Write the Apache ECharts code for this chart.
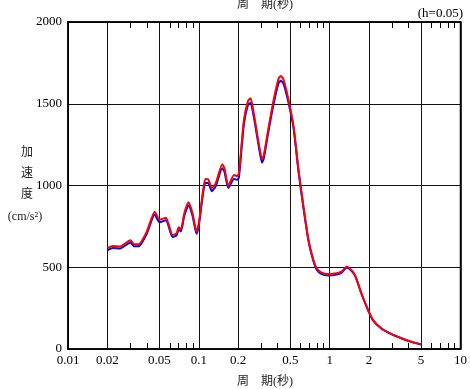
<!DOCTYPE html>
<html><head><meta charset="utf-8">
<script src="https://cdn.jsdelivr.net/npm/echarts@6/dist/echarts.min.js"></script>
<style>html,body{margin:0;padding:0;background:#fff}#c{width:470px;height:389px}</style>
</head><body><div id="c"></div>
<script>
const periods = [0.02,0.022,0.025,0.03,0.032,0.035,0.04,0.046,0.05,0.056,0.063,0.0676,0.07,0.073,0.0774,0.0834,0.0895,0.096,0.1,0.1054,0.112,0.118,0.1256,0.1346,0.151,0.157,0.168,0.1855,0.1965,0.2025,0.221,0.238,0.2485,0.263,0.287,0.304,0.314,0.342,0.373,0.407,0.424,0.445,0.485,0.53,0.578,0.631,0.689,0.751,0.796,0.869,0.977,1.13,1.233,1.345,1.428,1.559,1.749,1.966,2.146,2.48,2.96,3.52,4.19,5.0];
const accRed = [618,630,627,665,640,642,718,840,790,803,697,708,744,732,830,897,830,717,770,911,1040,1038,985,1013,1130,1105,997,1064,1058,1075,1400,1519,1533,1441,1258,1160,1187,1360,1523,1655,1670,1645,1523,1360,1095,870,667,544,493,467,459,463,473,503,493,453,341,239,177,127,92,67,45,29];
const accBlue = [605,618,615,652,628,630,705,822,775,788,685,695,730,720,815,878,815,705,755,895,1015,1015,965,995,1105,1085,985,1040,1035,1050,1375,1495,1505,1420,1240,1140,1168,1340,1500,1628,1640,1620,1505,1350,1085,860,660,538,485,458,450,455,467,497,488,450,338,237,175,126,91,66,44,28];
const xMajorTicks = [0.01,0.02,0.05,0.1,0.2,0.5,1,2,5,10];
const xMinorTicks = [0.03,0.04,0.06,0.07,0.08,0.09,0.3,0.4,0.6,0.7,0.8,0.9,3,4,6,7,8,9];
const yMin = 0, yMax = 2000, yStep = 500;
const xTitle = '周\u3000期(秒)';
const yTitle = '加\n速\n度';
const yUnit = '(cm/s\u00B2)';
const note = '(h=0.05)';

const FONT = '"Liberation Serif", "Noto Sans CJK JP", serif';
const chart = echarts.init(document.getElementById('c'), null, {renderer:'canvas'});
const mk = (vals) => periods.map((p,i)=>[p, vals[i]]);
const baseX = {type:'log', logBase:10, min:0.01, max:10, gridIndex:0};
chart.setOption({
  animation:false,
  backgroundColor:'#fff',
  grid:{left:68, right:7, top:22, bottom:40, show:true, borderColor:'#000', borderWidth:1.5, backgroundColor:'transparent'},
  xAxis:[
    Object.assign({}, baseX, {position:'bottom',
      axisLine:{show:true, onZero:false, lineStyle:{color:'#000', width:1.5}},
      axisTick:{show:false, customValues:xMajorTicks},
      axisLabel:{customValues:xMajorTicks, color:'#000', fontFamily:FONT, fontSize:13, margin:5,
        formatter:(v)=>String(Number(Number(v).toPrecision(3)))},
      splitLine:{show:true, lineStyle:{color:'#111', width:1}},
      minorTick:{show:false}, minorSplitLine:{show:false}}),
    Object.assign({}, baseX, {position:'bottom',
      axisLine:{show:false, onZero:false},
      axisTick:{show:true, inside:true, length:6, customValues:xMinorTicks, lineStyle:{color:'#000', width:1}},
      axisLabel:{show:false}, splitLine:{show:false}}),
    Object.assign({}, baseX, {position:'top',
      axisLine:{show:true, onZero:false, lineStyle:{color:'#000', width:1.5}},
      axisTick:{show:true, inside:true, length:6, customValues:xMinorTicks, lineStyle:{color:'#000', width:1}},
      axisLabel:{show:false}, splitLine:{show:false}})
  ],
  yAxis:[
    {type:'value', min:yMin, max:yMax, interval:yStep, position:'left',
      axisLine:{show:true, onZero:false, lineStyle:{color:'#000', width:1.5}},
      axisTick:{show:false},
      axisLabel:{color:'#000', fontFamily:FONT, fontSize:13, margin:6, formatter:(v)=>String(v)},
      splitLine:{show:true, lineStyle:{color:'#111', width:1}}},
    {type:'value', min:yMin, max:yMax, interval:yStep, position:'right',
      axisLine:{show:true, onZero:false, lineStyle:{color:'#000', width:1.5}},
      axisTick:{show:false}, axisLabel:{show:false}, splitLine:{show:false}}
  ],
  series:[
    {type:'line', name:'blue', data:mk(accBlue), showSymbol:false, symbol:'none', smooth:0.2,
      lineStyle:{color:'#0000ff', width:2}, z:3},
    {type:'line', name:'red', data:mk(accRed), showSymbol:false, symbol:'none', smooth:0.2,
      lineStyle:{color:'#ff0000', width:2}, z:4}
  ],
  graphic:[
    {type:'text', x:265, y:5, style:{text:xTitle, font:'12px '+FONT, fill:'#222', textAlign:'center', textVerticalAlign:'middle'}},
    {type:'text', x:265, y:382, style:{text:xTitle, font:'12px '+FONT, fill:'#222', textAlign:'center', textVerticalAlign:'middle'}},
    {type:'text', x:463, y:14, style:{text:note, font:'13px '+FONT, fill:'#000', textAlign:'right', textVerticalAlign:'middle'}},
    {type:'text', x:27, y:142, style:{text:yTitle, font:'12px '+FONT, fill:'#222', textAlign:'center', textVerticalAlign:'top', lineHeight:21}},
    {type:'text', x:25, y:217, style:{text:yUnit, font:'12px '+FONT, fill:'#222', textAlign:'center', textVerticalAlign:'middle'}}
  ]
});
</script></body></html>
